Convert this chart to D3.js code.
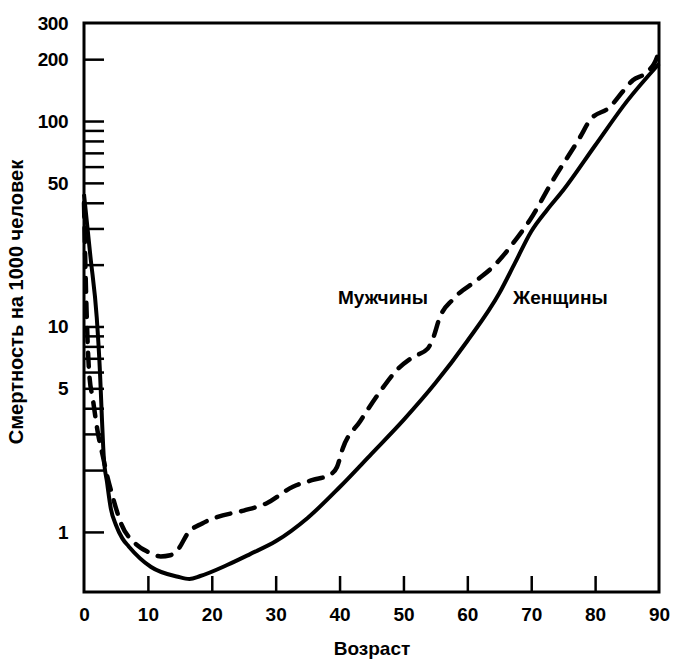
<!DOCTYPE html>
<html>
<head>
<meta charset="utf-8">
<script src="https://cdn.jsdelivr.net/npm/d3@7"></script>
<style>
  body { margin: 0; background: #fff; }
  text { font-family: "Liberation Sans", Arial, sans-serif; font-weight: bold; fill: #000; }
</style>
</head>
<body>
<div id="chart"></div>
<script>
// mortality per 1000, men (dashed) and women (solid)
var menAge  = [0, 0.4, 0.8, 1.4, 2.2, 3.0, 3.5, 4.5, 5.8, 8, 10, 12, 13.5, 14.7, 16.3, 18.5, 20.8, 25, 28.6, 32.7, 35.8, 38.5, 39.6, 40.5, 43.2, 46.3, 49, 51.5, 53.8, 54.6, 55.7, 57.7, 61.5, 64, 67.8, 69.8, 73.4, 77.6, 79.2, 82.3, 84.4, 85.9, 88, 89.7, 90];
var menRate = [40, 12, 6, 4.4, 3.0, 2.3, 1.95, 1.48, 1.1, 0.88, 0.8, 0.76, 0.77, 0.82, 0.99, 1.1, 1.18, 1.27, 1.38, 1.66, 1.79, 1.9, 2.07, 2.55, 3.45, 4.8, 6.15, 7.1, 7.8, 8.7, 11.1, 13.5, 16.8, 19.5, 27, 33, 51.5, 83, 101, 117, 140, 158, 172, 205, 230];

var womenAge  = [0, 1, 2, 2.5, 2.8, 3.1, 3.6, 4.2, 5, 6, 7, 10.5, 14.7, 16.5, 18.2, 22.4, 26, 30, 35, 40, 45, 50, 55, 60, 65, 67.5, 70, 72.5, 75, 80, 85, 90];
var womenRate = [44, 22, 11, 6, 3.6, 2.3, 1.75, 1.3, 1.08, 0.93, 0.85, 0.675, 0.605, 0.59, 0.61, 0.69, 0.78, 0.9, 1.17, 1.65, 2.4, 3.5, 5.3, 8.5, 14.5, 20.5, 29, 37, 46, 76, 125, 190];

var xTicks = [0, 10, 20, 30, 40, 50, 60, 70, 80, 90];
var yTickLabels = [1, 5, 10, 50, 100, 200, 300];
var yMinorTicks = [1, 2, 3, 4, 5, 6, 7, 8, 9, 10, 20, 30, 40, 50, 60, 70, 80, 90, 100, 200];

var width = 673;
var height = 659;
// plot box (window.top is reserved, so use other names)
var plotLeft = 84, plotRight = 659, plotTop = 23, plotBottom = 592;

var svg = d3.select("#chart")
  .append("svg")
  .attr("width", width)
  .attr("height", height);

var x = d3.scaleLinear()
  .domain([0, 90])
  .range([plotLeft, plotRight]);

var y = d3.scaleLog()
  .domain([0.51, 300])
  .range([plotBottom, plotTop]);

// frame
svg.append("rect")
  .attr("x", plotLeft)
  .attr("y", plotTop)
  .attr("width", plotRight - plotLeft)
  .attr("height", plotBottom - plotTop)
  .attr("fill", "none")
  .attr("stroke", "#000")
  .attr("stroke-width", 3);

// x axis: inward ticks, labels below
var xAxis = d3.axisBottom(x)
  .tickValues(xTicks)
  .tickSize(0)
  .tickPadding(0)
  .tickFormat(d3.format("d"));

var xg = svg.append("g")
  .attr("transform", `translate(0, ${plotBottom})`)
  .call(xAxis);
xg.select(".domain").remove();
xg.selectAll(".tick text")
  .attr("y", 29)
  .attr("dy", null)
  .attr("fill", "#000")
  .style("font-size", "19px");
xg.selectAll(".tick")
  .filter(d => d > 0 && d < 90)
  .append("line")
  .attr("y1", 0)
  .attr("y2", -16)
  .attr("stroke", "#000")
  .attr("stroke-width", 2.5);

// y axis: minor ticks inward, a few labels
var yAxis = d3.axisLeft(y)
  .tickValues(yMinorTicks)
  .tickSize(0)
  .tickFormat("");

var yg = svg.append("g")
  .attr("transform", `translate(${plotLeft}, 0)`)
  .call(yAxis);
yg.select(".domain").remove();
yg.selectAll(".tick")
  .append("line")
  .attr("x1", 0)
  .attr("x2", 20)
  .attr("stroke", "#000")
  .attr("stroke-width", 2.5);

svg.append("g")
  .selectAll("text")
  .data(yTickLabels)
  .enter()
  .append("text")
  .attr("x", 68)
  .attr("y", d => y(d))
  .attr("dy", "0.35em")
  .attr("text-anchor", "end")
  .style("font-size", "19px")
  .style("letter-spacing", "-0.5px")
  .text(d => d);

// curves
var line = d3.line()
  .x(d => x(d[0]))
  .y(d => y(d[1]))
  .curve(d3.curveMonotoneX);

var menData = d3.zip(menAge, menRate);
var womenData = d3.zip(womenAge, womenRate);

svg.append("path")
  .datum(womenData)
  .attr("d", line)
  .attr("fill", "none")
  .attr("stroke", "#000")
  .attr("stroke-width", 4);

svg.append("path")
  .datum(menData)
  .attr("d", line)
  .attr("fill", "none")
  .attr("stroke", "#000")
  .attr("stroke-width", 4.5)
  .attr("stroke-linecap", "round")
  .attr("stroke-dasharray", "14,11");

// series labels
svg.append("text")
  .attr("x", 338)
  .attr("y", 304)
  .style("font-size", "19px")
  .text("Мужчины");

svg.append("text")
  .attr("x", 513)
  .attr("y", 304)
  .style("font-size", "19px")
  .text("Женщины");

// axis titles
svg.append("text")
  .attr("x", 372)
  .attr("y", 655)
  .attr("text-anchor", "middle")
  .style("font-size", "19px")
  .text("Возраст");

svg.append("text")
  .attr("transform", "translate(23, 302) rotate(-90)")
  .attr("text-anchor", "middle")
  .style("font-size", "20px")
  .text("Смертность на 1000 человек");
</script>
</body>
</html>
